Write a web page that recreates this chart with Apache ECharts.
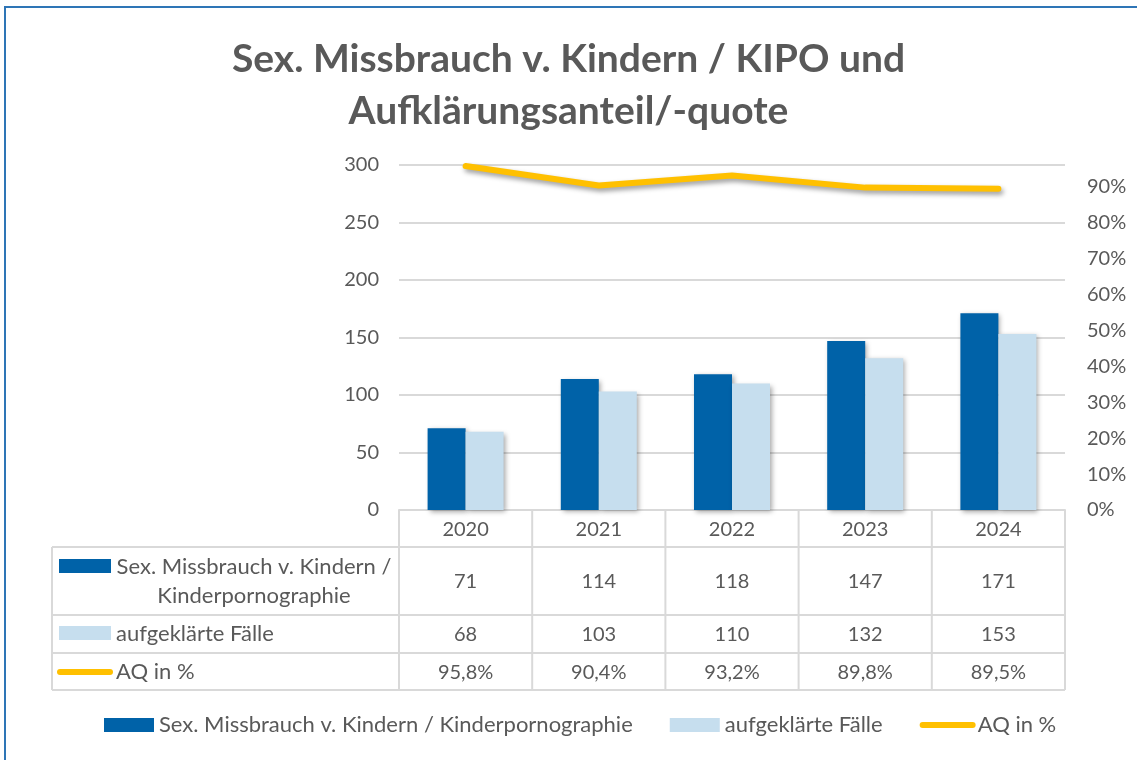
<!DOCTYPE html>
<html style="height: 100%">

<head>
    <meta charset="utf-8">
</head>

<body style="height: 100%;width: 100%;margin: 0;">
    <div id="container" style="height: 760px;width: 1137px;"></div>
    <script type="text/javascript" src="https://cdn.jsdelivr.net/npm/echarts@6/dist/echarts.min.js"></script>
    <script type="text/javascript">
        // Werte aus der Grafik
        var years = ['2020', '2021', '2022', '2023', '2024'];
        var faelle = [71, 114, 118, 147, 171];
        var aufgeklaert = [68, 103, 110, 132, 153];
        var aq = [95.8, 90.4, 93.2, 89.8, 89.5];
        var nameFaelle = 'Sex. Missbrauch v. Kindern / Kinderpornographie';
        var nameAufgeklaert = 'aufgeklärte Fälle';
        var nameAq = 'AQ in %';

        var txt = '#595959';
        var fnt = 'Lato';
        var dunkel = '#0062A8';
        var hell = '#C6DEEE';
        var gelb = '#FFC000';
        var linie = '#D9D9D9';

        var gridL = 399, gridR = 1065, gridT = 165, gridB = 510;

        function komma(v) {
            return v.toFixed(1).replace('.', ',') + '%';
        }

        function tabAchse(offset, werte) {
            return {
                type: 'category',
                data: years,
                position: 'bottom',
                offset: offset,
                axisLine: { show: false },
                axisTick: { show: false },
                axisLabel: {
                    color: txt, fontFamily: fnt, fontSize: 20, margin: 10,
                    formatter: function (v, i) { return werte[i]; }
                }
            };
        }

        // Tabellenlinien
        var g = [];
        var rows = [547, 615, 653, 690];
        rows.forEach(function (y) {
            g.push({ type: 'line', shape: { x1: 52, y1: y, x2: gridR, y2: y }, style: { stroke: linie, lineWidth: 2 } });
        });
        g.push({ type: 'line', shape: { x1: 52, y1: 547, x2: 52, y2: 690 }, style: { stroke: linie, lineWidth: 2 } });
        for (var i = 0; i <= years.length; i++) {
            var x = gridL + i * (gridR - gridL) / years.length;
            g.push({ type: 'line', shape: { x1: x, y1: gridB, x2: x, y2: 690 }, style: { stroke: linie, lineWidth: 2 } });
        }
        // Zeilenköpfe
        g.push({ type: 'rect', shape: { x: 59, y: 559, width: 52, height: 14 }, style: { fill: dunkel } });
        g.push({ type: 'text', x: 254, y: 581, style: { text: 'Sex. Missbrauch v. Kindern /\nKinderpornographie', fill: txt, font: '22px ' + fnt, align: 'center', verticalAlign: 'middle', lineHeight: 29 } });
        g.push({ type: 'rect', shape: { x: 59, y: 626, width: 52, height: 14 }, style: { fill: hell } });
        g.push({ type: 'text', x: 116, y: 634, style: { text: nameAufgeklaert, fill: txt, font: '22px ' + fnt, verticalAlign: 'middle' } });
        g.push({ type: 'line', shape: { x1: 60, y1: 672, x2: 110, y2: 672 }, style: { stroke: gelb, lineWidth: 6, lineCap: 'round' } });
        g.push({ type: 'text', x: 116, y: 672, style: { text: nameAq, fill: txt, font: '22px ' + fnt, verticalAlign: 'middle' } });
        // Rahmen
        g.push({ type: 'rect', shape: { x: 5, y: 7, width: 1150, height: 770 }, style: { fill: 'none', stroke: '#2E75B6', lineWidth: 2 } });

        var myChart = echarts.init(document.getElementById('container'));
        var option = {
            backgroundColor: '#fff',
            title: {
                text: 'Sex. Missbrauch v. Kindern / KIPO und\nAufklärungsanteil/-quote',
                left: 'center',
                top: 28,
                textStyle: { color: txt, fontFamily: fnt, fontWeight: 'bold', fontSize: 39, lineHeight: 52 }
            },
            legend: {
                bottom: 19,
                left: 99,
                itemWidth: 50,
                itemHeight: 14,
                itemGap: 37,
                textStyle: { color: txt, fontFamily: fnt, fontSize: 22 },
                data: [
                    { name: nameFaelle, icon: 'rect' },
                    { name: nameAufgeklaert, icon: 'rect' },
                    { name: nameAq, itemStyle: { opacity: 0 }, lineStyle: { width: 6, cap: 'round' } }
                ]
            },
            grid: { left: gridL, right: 1137 - gridR, top: gridT, bottom: 760 - gridB },
            xAxis: [{
                type: 'category',
                data: years,
                axisLine: { lineStyle: { color: linie, width: 2 } },
                axisTick: { show: false },
                axisLabel: { color: txt, fontFamily: fnt, fontSize: 20, margin: 10 }
            },
                tabAchse(52, faelle),
                tabAchse(105, aufgeklaert),
                tabAchse(143, aq.map(komma))
            ],
            yAxis: [{
                type: 'value',
                min: 0, max: 300, interval: 50,
                axisLine: { show: false },
                axisTick: { show: false },
                splitLine: { lineStyle: { color: linie, width: 2 } },
                axisLabel: { color: txt, fontFamily: fnt, fontSize: 20, margin: 20 }
            }, {
                type: 'value',
                min: 0, max: 96.1, interval: 10,
                axisLine: { show: false },
                axisTick: { show: false },
                splitLine: { show: false },
                axisLabel: {
                    color: txt, fontFamily: fnt, fontSize: 20, margin: 22, showMaxLabel: false,
                    formatter: function (v) { return v + '%'; }
                }
            }],
            series: [{
                name: nameFaelle,
                type: 'bar',
                data: faelle,
                barWidth: 38,
                barGap: '0%',
                itemStyle: { color: dunkel, shadowBlur: 5, shadowOffsetX: 2, shadowOffsetY: 2, shadowColor: 'rgba(0,0,0,0.35)' }
            }, {
                name: nameAufgeklaert,
                type: 'bar',
                data: aufgeklaert,
                barWidth: 38,
                itemStyle: { color: hell, shadowBlur: 5, shadowOffsetX: 2, shadowOffsetY: 2, shadowColor: 'rgba(0,0,0,0.35)' }
            }, {
                name: nameAq,
                type: 'line',
                yAxisIndex: 1,
                data: aq,
                symbol: 'none',
                itemStyle: { color: gelb },
                lineStyle: { color: gelb, width: 6, cap: 'round', shadowBlur: 5, shadowOffsetX: 2, shadowOffsetY: 3, shadowColor: 'rgba(0,0,0,0.4)' }
            }],
            graphic: g
        };
        myChart.setOption(option);
        window.onresize = myChart.resize;
    </script>
</body>

</html>
